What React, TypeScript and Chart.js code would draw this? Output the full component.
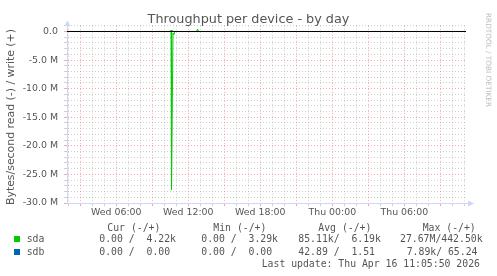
import React, { useEffect, useRef } from 'react';
import { Chart, registerables } from 'chart.js';

Chart.register(...registerables);

// ---- data (hours since Wed 00:00, bytes/second; read plotted negative) ----
const X_MIN_HOURS = 1.89; // Wed 01:53
const X_MAX_HOURS = 35.14; // Thu 11:08
const X_LABEL_HOURS = [6, 12, 18, 24, 30];
const X_LABELS = ['Wed 06:00', 'Wed 12:00', 'Wed 18:00', 'Thu 00:00', 'Thu 06:00'];

const Y_MIN = -30e6;
const Y_MAX = 1e6;
const Y_LABEL_VALUES = [0, -5e6, -10e6, -15e6, -20e6, -25e6, -30e6];
const Y_LABELS = ['0.0', '-5.0 M', '-10.0 M', '-15.0 M', '-20.0 M', '-25.0 M', '-30.0 M'];

const SDA_READ_HOURS = [1.89, 10.56, 10.6, 10.72, 10.79, 10.87, 35.14];
const SDA_READ = [0, 0, -27670000, -300000, -600000, 0, 0];
const SDA_WRITE_HOURS = [1.89, 10.47, 10.52, 10.68, 10.74, 12.69, 12.77, 12.85, 35.14];
const SDA_WRITE = [0, 0, 170000, 170000, 0, 0, 442500, 0, 0];
const SDB_READ_HOURS = [1.89, 10.6, 35.14];
const SDB_READ = [0, -7890, 0];
const SDB_WRITE_HOURS = [1.89, 10.6, 35.14];
const SDB_WRITE = [0, 65.24, 0];

const LEGEND_NAMES = ['sda', 'sdb'];
const LEGEND_COLORS = ['#00cc00', '#0066b3'];
const LEGEND_CUR = ['0.00 /  4.22k', '0.00 /  0.00'];
const LEGEND_MIN = ['0.00 /  3.29k', '0.00 /  0.00'];
const LEGEND_AVG = ['85.11k/  6.19k', '42.89 /  1.51'];
const LEGEND_MAX = ['27.67M/442.50k', '7.89k/ 65.24'];
const LAST_UPDATE = 'Last update: Thu Apr 16 11:05:50 2026';

const AXIS_COLOR = '#cfd6f8';
const MAJOR_GRID = 'rgba(230,100,100,0.55)';
const MINOR_GRID = 'rgba(150,150,150,0.45)';
const TEXT_COLOR = '#555';

const pts = (xs: number[], ys: number[]) => xs.map((x, i) => ({ x, y: ys[i] }));

const axisArrows = {
  id: 'axisArrows',
  afterDraw(chart: any) {
    const { ctx, chartArea: a } = chart;
    const lx = Math.round(a.left) + 0.5;
    const by = Math.round(a.bottom) + 0.5;
    const top = Math.round(a.top);
    ctx.save();
    ctx.strokeStyle = AXIS_COLOR;
    ctx.fillStyle = AXIS_COLOR;
    ctx.lineWidth = 1;
    ctx.beginPath();
    ctx.moveTo(a.right, by);
    ctx.lineTo(a.right + 2, by);
    ctx.stroke();
    ctx.beginPath();
    ctx.moveTo(lx - 3, top);
    ctx.lineTo(lx, top - 5.5);
    ctx.lineTo(lx + 3, top);
    ctx.closePath();
    ctx.fill();
    ctx.beginPath();
    ctx.moveTo(a.right + 2, by - 3);
    ctx.lineTo(a.right + 8, by);
    ctx.lineTo(a.right + 2, by + 3);
    ctx.closePath();
    ctx.fill();
    ctx.restore();
  },
};

const mono: React.CSSProperties = {
  position: 'absolute',
  fontFamily: '"DejaVu Sans Mono", monospace',
  fontSize: '9.8px',
  lineHeight: '12px',
  whiteSpace: 'pre',
  color: TEXT_COLOR,
};

function Txt({ x, y, text }: { x: number; y: number; text: string }) {
  return <div style={{ ...mono, left: x, top: y - 5.8 }}>{text}</div>;
}

export default function App() {
  const ref = useRef<HTMLCanvasElement | null>(null);

  useEffect(() => {
    if (!ref.current) return;
    const gridColor = (major: (v: number) => boolean) => (ctx: any) =>
      ctx.tick && major(ctx.tick.value) ? MAJOR_GRID : MINOR_GRID;
    const xMajor = (v: number) => Math.round(v) % 3 === 0;
    const yMajor = (v: number) => Math.round(v / 1e6) % 5 === 0;

    const chart = new Chart(ref.current, {
      type: 'line',
      data: {
        datasets: [
          {
            label: 'zero',
            data: pts([X_MIN_HOURS, X_MAX_HOURS], [0, 0]),
            borderColor: '#000000',
            borderWidth: 1,
            order: -10,
          },
          { label: 'sda read', data: pts(SDA_READ_HOURS, SDA_READ), borderColor: LEGEND_COLORS[0], borderWidth: 1 },
          { label: 'sda write', data: pts(SDA_WRITE_HOURS, SDA_WRITE), borderColor: LEGEND_COLORS[0], borderWidth: 1 },
          { label: 'sdb read', data: pts(SDB_READ_HOURS, SDB_READ), borderColor: LEGEND_COLORS[1], borderWidth: 1 },
          { label: 'sdb write', data: pts(SDB_WRITE_HOURS, SDB_WRITE), borderColor: LEGEND_COLORS[1], borderWidth: 1 },
        ],
      },
      options: {
        animation: false,
        responsive: false,
        devicePixelRatio: 1,
        events: [],
        elements: { point: { radius: 0 }, line: { tension: 0, fill: false } },
        layout: { padding: { left: 0, top: 25.783, right: 31, bottom: 0 } },
        plugins: { legend: { display: false }, title: { display: false }, tooltip: { enabled: false } },
        scales: {
          x: {
            type: 'linear',
            min: X_MIN_HOURS,
            max: X_MAX_HOURS,
            afterFit: (s: any) => {
              s.height = 73;
            },
            border: { display: true, color: AXIS_COLOR, width: 1, dash: [1, 2] },
            grid: {
              color: gridColor(xMajor),
              tickColor: gridColor(xMajor),
              lineWidth: 1,
              drawTicks: true,
              tickLength: 3,
              tickBorderDash: [],
            },
            ticks: {
              stepSize: 1,
              includeBounds: false,
              autoSkip: false,
              maxRotation: 0,
              padding: 1,
              color: TEXT_COLOR,
              font: { family: '"DejaVu Sans", sans-serif', size: 9.4 },
              callback: (v: any) => {
                const i = X_LABEL_HOURS.findIndex((h) => Math.abs(h - Number(v)) < 1e-6);
                return i >= 0 ? X_LABELS[i] : '';
              },
            },
          },
          y: {
            type: 'linear',
            min: Y_MIN,
            max: Y_MAX,
            afterFit: (s: any) => {
              s.width = 67;
            },
            border: { display: true, color: AXIS_COLOR, width: 1, dash: [1, 2] },
            grid: {
              color: gridColor(yMajor),
              tickColor: gridColor(yMajor),
              lineWidth: 1,
              drawTicks: true,
              tickLength: 3,
              tickBorderDash: [],
            },
            ticks: {
              stepSize: 1e6,
              includeBounds: false,
              autoSkip: false,
              padding: 6,
              color: TEXT_COLOR,
              font: { family: '"DejaVu Sans", sans-serif', size: 9.4 },
              callback: (v: any) => {
                const i = Y_LABEL_VALUES.findIndex((y) => Math.abs(y - Number(v)) < 1);
                return i >= 0 ? Y_LABELS[i] : '';
              },
            },
          },
        },
      },
      plugins: [axisArrows],
    } as any);
    return () => chart.destroy();
  }, []);

  const rowsY = [239, 251.5];
  return (
    <div style={{ position: 'absolute', left: 0, top: 0, width: 497, height: 276, background: '#fff', overflow: 'hidden' }}>
      <canvas ref={ref} width={497} height={276} style={{ position: 'absolute', left: 0, top: 0, width: 497, height: 276 }} />
      <div
        style={{
          position: 'absolute',
          left: 0,
          top: 10.7,
          width: 497,
          textAlign: 'center',
          fontFamily: '"DejaVu Sans", sans-serif',
          fontSize: '12.8px',
          lineHeight: '16px',
          color: TEXT_COLOR,
          whiteSpace: 'pre',
        }}
      >
        Throughput per device - by day
      </div>
      <div
        style={{
          position: 'absolute',
          left: -89,
          top: 109.5,
          width: 200,
          height: 14,
          lineHeight: '14px',
          textAlign: 'center',
          fontFamily: '"DejaVu Sans", sans-serif',
          fontSize: '10.9px',
          color: TEXT_COLOR,
          whiteSpace: 'pre',
          transform: 'rotate(-90deg)',
        }}
      >
        Bytes/second read (-) / write (+)
      </div>
      <div
        style={{
          position: 'absolute',
          left: 488 - 60,
          top: 60 - 5,
          width: 120,
          height: 10,
          lineHeight: '10px',
          textAlign: 'center',
          fontFamily: '"DejaVu Sans", sans-serif',
          fontSize: '7.3px',
          color: '#bbb',
          whiteSpace: 'pre',
          transform: 'rotate(90deg)',
        }}
      >
        RRDTOOL / TOBI OETIKER
      </div>
      <Txt x={107.3} y={227.5} text="Cur (-/+)" />
      <Txt x={213.3} y={227.5} text="Min (-/+)" />
      <Txt x={318.3} y={227.5} text="Avg (-/+)" />
      <Txt x={422.7} y={227.5} text="Max (-/+)" />
      {LEGEND_NAMES.map((n, i) => (
        <React.Fragment key={n}>
          <div
            style={{
              position: 'absolute',
              left: 14,
              top: rowsY[i] - 3,
              width: 6,
              height: 6,
              background: LEGEND_COLORS[i],
            }}
          />
          <Txt x={26.7} y={rowsY[i]} text={n} />
          <Txt x={99.3} y={rowsY[i]} text={LEGEND_CUR[i]} />
          <Txt x={201.3} y={rowsY[i]} text={LEGEND_MIN[i]} />
          <Txt x={298.3} y={rowsY[i]} text={LEGEND_AVG[i]} />
          <Txt x={i === 0 ? 400 : 406.7} y={rowsY[i]} text={LEGEND_MAX[i]} />
        </React.Fragment>
      ))}
      <Txt x={261.7} y={263.7} text={LAST_UPDATE} />
    </div>
  );
}
